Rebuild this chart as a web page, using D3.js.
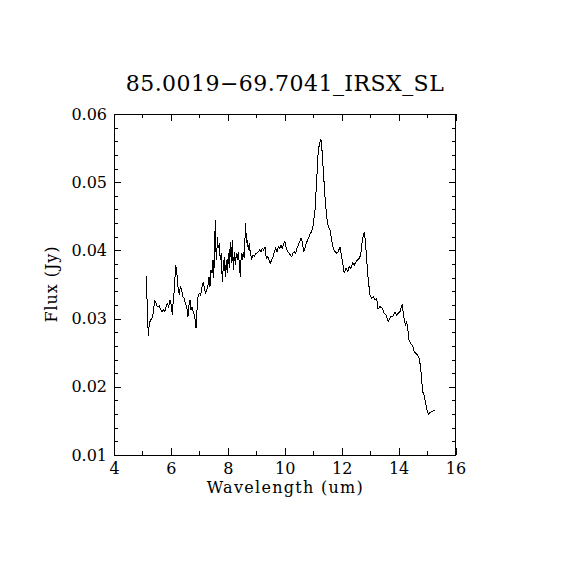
<!DOCTYPE html>
<html>
<head>
<meta charset="utf-8">
<script src="https://cdn.jsdelivr.net/npm/d3@7"></script>
<style>
  html, body { margin: 0; padding: 0; background: #fff; }
  text { font-family: "DejaVu Serif", serif; fill: #000; }
</style>
</head>
<body>
<div id="chart"></div>
<script>
// ---------------------------------- DATA ---------------------------------- //

let title_text = '85.0019\u221269.7041_IRSX_SL';
let x_label = 'Wavelength (um)';
let y_label = 'Flux (Jy)';
let x_ticks = [4, 6, 8, 10, 12, 14, 16];
let x_minor = [5, 7, 9, 11, 13, 15];
let y_ticks = [0.01, 0.02, 0.03, 0.04, 0.05, 0.06];
let y_minor = [0.012, 0.014, 0.016, 0.018, 0.022, 0.024, 0.026, 0.028, 0.032, 0.034, 0.036, 0.038,
  0.042, 0.044, 0.046, 0.048, 0.052, 0.054, 0.056, 0.058];

let wavelength = [
  5.142, 5.160, 5.205, 5.240, 5.290, 5.335, 5.381, 5.430, 5.476, 5.521, 5.592, 5.641, 5.687, 5.732, 5.781,
  5.827, 5.873, 5.922, 5.968, 6.013, 6.048, 6.084, 6.119, 6.168, 6.203, 6.249, 6.294, 6.330, 6.379, 6.414,
  6.460, 6.505, 6.554, 6.600, 6.635, 6.670, 6.706, 6.741, 6.786, 6.836, 6.881, 6.916, 6.952, 6.997, 7.046,
  7.092, 7.138, 7.187, 7.222, 7.257, 7.303, 7.338, 7.373, 7.408, 7.443, 7.479, 7.503, 7.538, 7.559, 7.584,
  7.609, 7.630, 7.665, 7.700, 7.735, 7.770, 7.805, 7.840, 7.876, 7.911, 7.946, 7.981, 8.016, 8.051, 8.086,
  8.122, 8.157, 8.192, 8.227, 8.262, 8.297, 8.332, 8.368, 8.403, 8.438, 8.473, 8.508, 8.543, 8.578, 8.603,
  8.628, 8.649, 8.684, 8.719, 8.754, 8.789, 8.838, 8.884, 8.930, 8.979, 9.025, 9.070, 9.119, 9.165, 9.211,
  9.260, 9.306, 9.351, 9.401, 9.446, 9.492, 9.541, 9.587, 9.633, 9.682, 9.727, 9.773, 9.822, 9.868, 9.914,
  9.963, 10.008, 10.054, 10.103, 10.149, 10.195, 10.244, 10.290, 10.335, 10.384, 10.430, 10.476, 10.525, 10.571, 10.616,
  10.665, 10.711, 10.757, 10.806, 10.852, 10.897, 10.947, 10.992, 11.063, 11.122, 11.179, 11.238, 11.273, 11.308, 11.354,
  11.414, 11.474, 11.530, 11.590, 11.649, 11.706, 11.765, 11.825, 11.881, 11.941, 11.976, 12.036, 12.092, 12.152, 12.212,
  12.268, 12.327, 12.387, 12.443, 12.503, 12.563, 12.619, 12.668, 12.714, 12.760, 12.795, 12.830, 12.879, 12.935, 12.995,
  13.055, 13.111, 13.171, 13.230, 13.276, 13.346, 13.441, 13.487, 13.557, 13.638, 13.722, 13.793, 13.874, 13.933, 13.990,
  14.049, 14.084, 14.130, 14.165, 14.214, 14.250, 14.285, 14.320, 14.365, 14.425, 14.495, 14.552, 14.611, 14.671, 14.727,
  14.777, 14.812, 14.847, 14.892, 14.928, 14.963, 15.008, 15.058, 15.103, 15.163, 15.219, 15.268
];

let flux = [
  0.03625, 0.03287, 0.02745, 0.02931, 0.02980, 0.03009, 0.03078, 0.03273, 0.03224, 0.03175, 0.03185, 0.03136, 0.03101, 0.03126, 0.03101,
  0.03175, 0.03224, 0.03175, 0.03273, 0.03199, 0.03053, 0.03273, 0.03419, 0.03786, 0.03688, 0.03468, 0.03346, 0.03468, 0.03419, 0.03321,
  0.03298, 0.03224, 0.03175, 0.03028, 0.03199, 0.03273, 0.03126, 0.03175, 0.03101, 0.03028, 0.02858, 0.03126, 0.03321, 0.03371, 0.03346,
  0.03468, 0.03541, 0.03419, 0.03371, 0.03419, 0.03493, 0.03614, 0.03468, 0.03713, 0.03664, 0.03859, 0.03591, 0.04079, 0.04446, 0.03981,
  0.03859, 0.04201, 0.04031, 0.04104, 0.03859, 0.03958, 0.03541, 0.03761, 0.03908, 0.03614, 0.03859, 0.03664, 0.03958, 0.03738, 0.04128,
  0.03811, 0.04153, 0.03713, 0.03981, 0.03786, 0.03958, 0.03859, 0.03981, 0.03811, 0.03614, 0.03958, 0.03859, 0.03981, 0.03884, 0.04177,
  0.04397, 0.04104, 0.04153, 0.04006, 0.04104, 0.03958, 0.03884, 0.03933, 0.03908, 0.03958, 0.03958, 0.03981, 0.04006, 0.03981, 0.04031,
  0.04006, 0.04054, 0.03884, 0.03908, 0.03859, 0.03811, 0.03859, 0.03908, 0.03981, 0.04031, 0.03981, 0.04054, 0.04031, 0.04079, 0.04031,
  0.04104, 0.04128, 0.04031, 0.03981, 0.03958, 0.03933, 0.03908, 0.03958, 0.03981, 0.03958, 0.04031, 0.04079, 0.04128, 0.04177, 0.04128,
  0.03981, 0.04031, 0.04104, 0.04153, 0.04201, 0.04251, 0.04274, 0.04348, 0.04592, 0.05032, 0.05472, 0.05594, 0.05629, 0.05472, 0.05179,
  0.04787, 0.04494, 0.04348, 0.04299, 0.04153, 0.04031, 0.03981, 0.03958, 0.03981, 0.04054, 0.03958, 0.03811, 0.03664, 0.03738, 0.03688,
  0.03761, 0.03738, 0.03811, 0.03786, 0.03834, 0.03859, 0.03884, 0.03933, 0.04104, 0.04226, 0.04274, 0.04153, 0.03859, 0.03566, 0.03346,
  0.03298, 0.03321, 0.03273, 0.03298, 0.03141, 0.03175, 0.03151, 0.03078, 0.03053, 0.02955, 0.03028, 0.03028, 0.03101, 0.03053, 0.03078,
  0.03101, 0.03151, 0.03214, 0.03078, 0.02955, 0.02906, 0.02946, 0.02858, 0.02686, 0.02638, 0.02598, 0.02515, 0.02491, 0.02466, 0.02418,
  0.02271, 0.02100, 0.01928, 0.01880, 0.01806, 0.01733, 0.01635, 0.01601, 0.01620, 0.01635, 0.01650, 0.01660
];

// ---------------------------------- SETTINGS ---------------------------------- //

let img_width = 570;
let img_height = 570;
let plot_left = 114;
let plot_right = 455.5;
let plot_top = 114;
let plot_bottom = 455;
let major_tick = 7;
let minor_tick = 4;

// ---------------------------------- SCALES ---------------------------------- //

let x = d3.scaleLinear().domain([4, 16]).range([plot_left, plot_right]);
let y = d3.scaleLinear().domain([0.01, 0.06]).range([plot_bottom, plot_top]);

let svg = d3.select('#chart')
  .append('svg')
  .attr('width', img_width)
  .attr('height', img_height);

// ---------------------------------- AXES ---------------------------------- //

function drawAxis(axis, tx, ty, labels) {
  let g = svg.append('g')
    .attr('transform', `translate(${tx},${ty})`)
    .call(axis);
  g.select('.domain').remove();
  g.selectAll('line').attr('stroke', '#000').attr('stroke-width', 1).attr('shape-rendering', 'crispEdges');
  if (labels) {
    g.selectAll('text').style('font-size', '16px').attr('fill', '#000');
  } else {
    g.selectAll('text').remove();
  }
  return g;
}

drawAxis(d3.axisBottom(x).tickValues(x_ticks).tickSize(-major_tick).tickSizeOuter(0).tickPadding(8).tickFormat(d3.format('d')), 0, plot_bottom, true);
drawAxis(d3.axisBottom(x).tickValues(x_minor).tickSize(-minor_tick).tickSizeOuter(0).tickFormat(''), 0, plot_bottom, false);
drawAxis(d3.axisTop(x).tickValues(x_ticks).tickSize(-major_tick).tickSizeOuter(0).tickFormat(''), 0, plot_top, false);
drawAxis(d3.axisTop(x).tickValues(x_minor).tickSize(-minor_tick).tickSizeOuter(0).tickFormat(''), 0, plot_top, false);

drawAxis(d3.axisLeft(y).tickValues(y_ticks).tickSize(-major_tick).tickSizeOuter(0).tickPadding(7).tickFormat(d3.format('.2f')), plot_left, 0, true);
drawAxis(d3.axisLeft(y).tickValues(y_minor).tickSize(-minor_tick).tickSizeOuter(0).tickFormat(''), plot_left, 0, false);
drawAxis(d3.axisRight(y).tickValues(y_ticks).tickSize(-major_tick).tickSizeOuter(0).tickFormat(''), plot_right, 0, false);
drawAxis(d3.axisRight(y).tickValues(y_minor).tickSize(-minor_tick).tickSizeOuter(0).tickFormat(''), plot_right, 0, false);

svg.append('rect')
  .attr('x', plot_left)
  .attr('y', plot_top)
  .attr('width', plot_right - plot_left)
  .attr('height', plot_bottom - plot_top)
  .attr('fill', 'none')
  .attr('stroke', '#000')
  .attr('stroke-width', 1)
  .attr('shape-rendering', 'crispEdges');

// ---------------------------------- SPECTRUM ---------------------------------- //

let points = wavelength.map((w, i) => [w, flux[i]]);
let line = d3.line().x(d => x(d[0])).y(d => y(d[1]));

svg.append('path')
  .datum(points)
  .attr('d', line)
  .attr('fill', 'none')
  .attr('stroke', '#000')
  .attr('stroke-width', 1)
  .attr('shape-rendering', 'crispEdges');

// ---------------------------------- LABELS ---------------------------------- //

svg.append('text')
  .attr('x', (plot_left + plot_right) / 2)
  .attr('y', 91)
  .attr('text-anchor', 'middle')
  .attr('textLength', 318)
  .style('font-size', '22px')
  .text(title_text);

svg.append('text')
  .attr('x', (plot_left + plot_right) / 2)
  .attr('y', 493)
  .attr('text-anchor', 'middle')
  .attr('textLength', 156)
  .style('font-size', '16px')
  .text(x_label);

svg.append('text')
  .attr('transform', `translate(57,${(plot_top + plot_bottom) / 2}) rotate(-90)`)
  .attr('text-anchor', 'middle')
  .attr('textLength', 76)
  .style('font-size', '16px')
  .text(y_label);
</script>
</body>
</html>
